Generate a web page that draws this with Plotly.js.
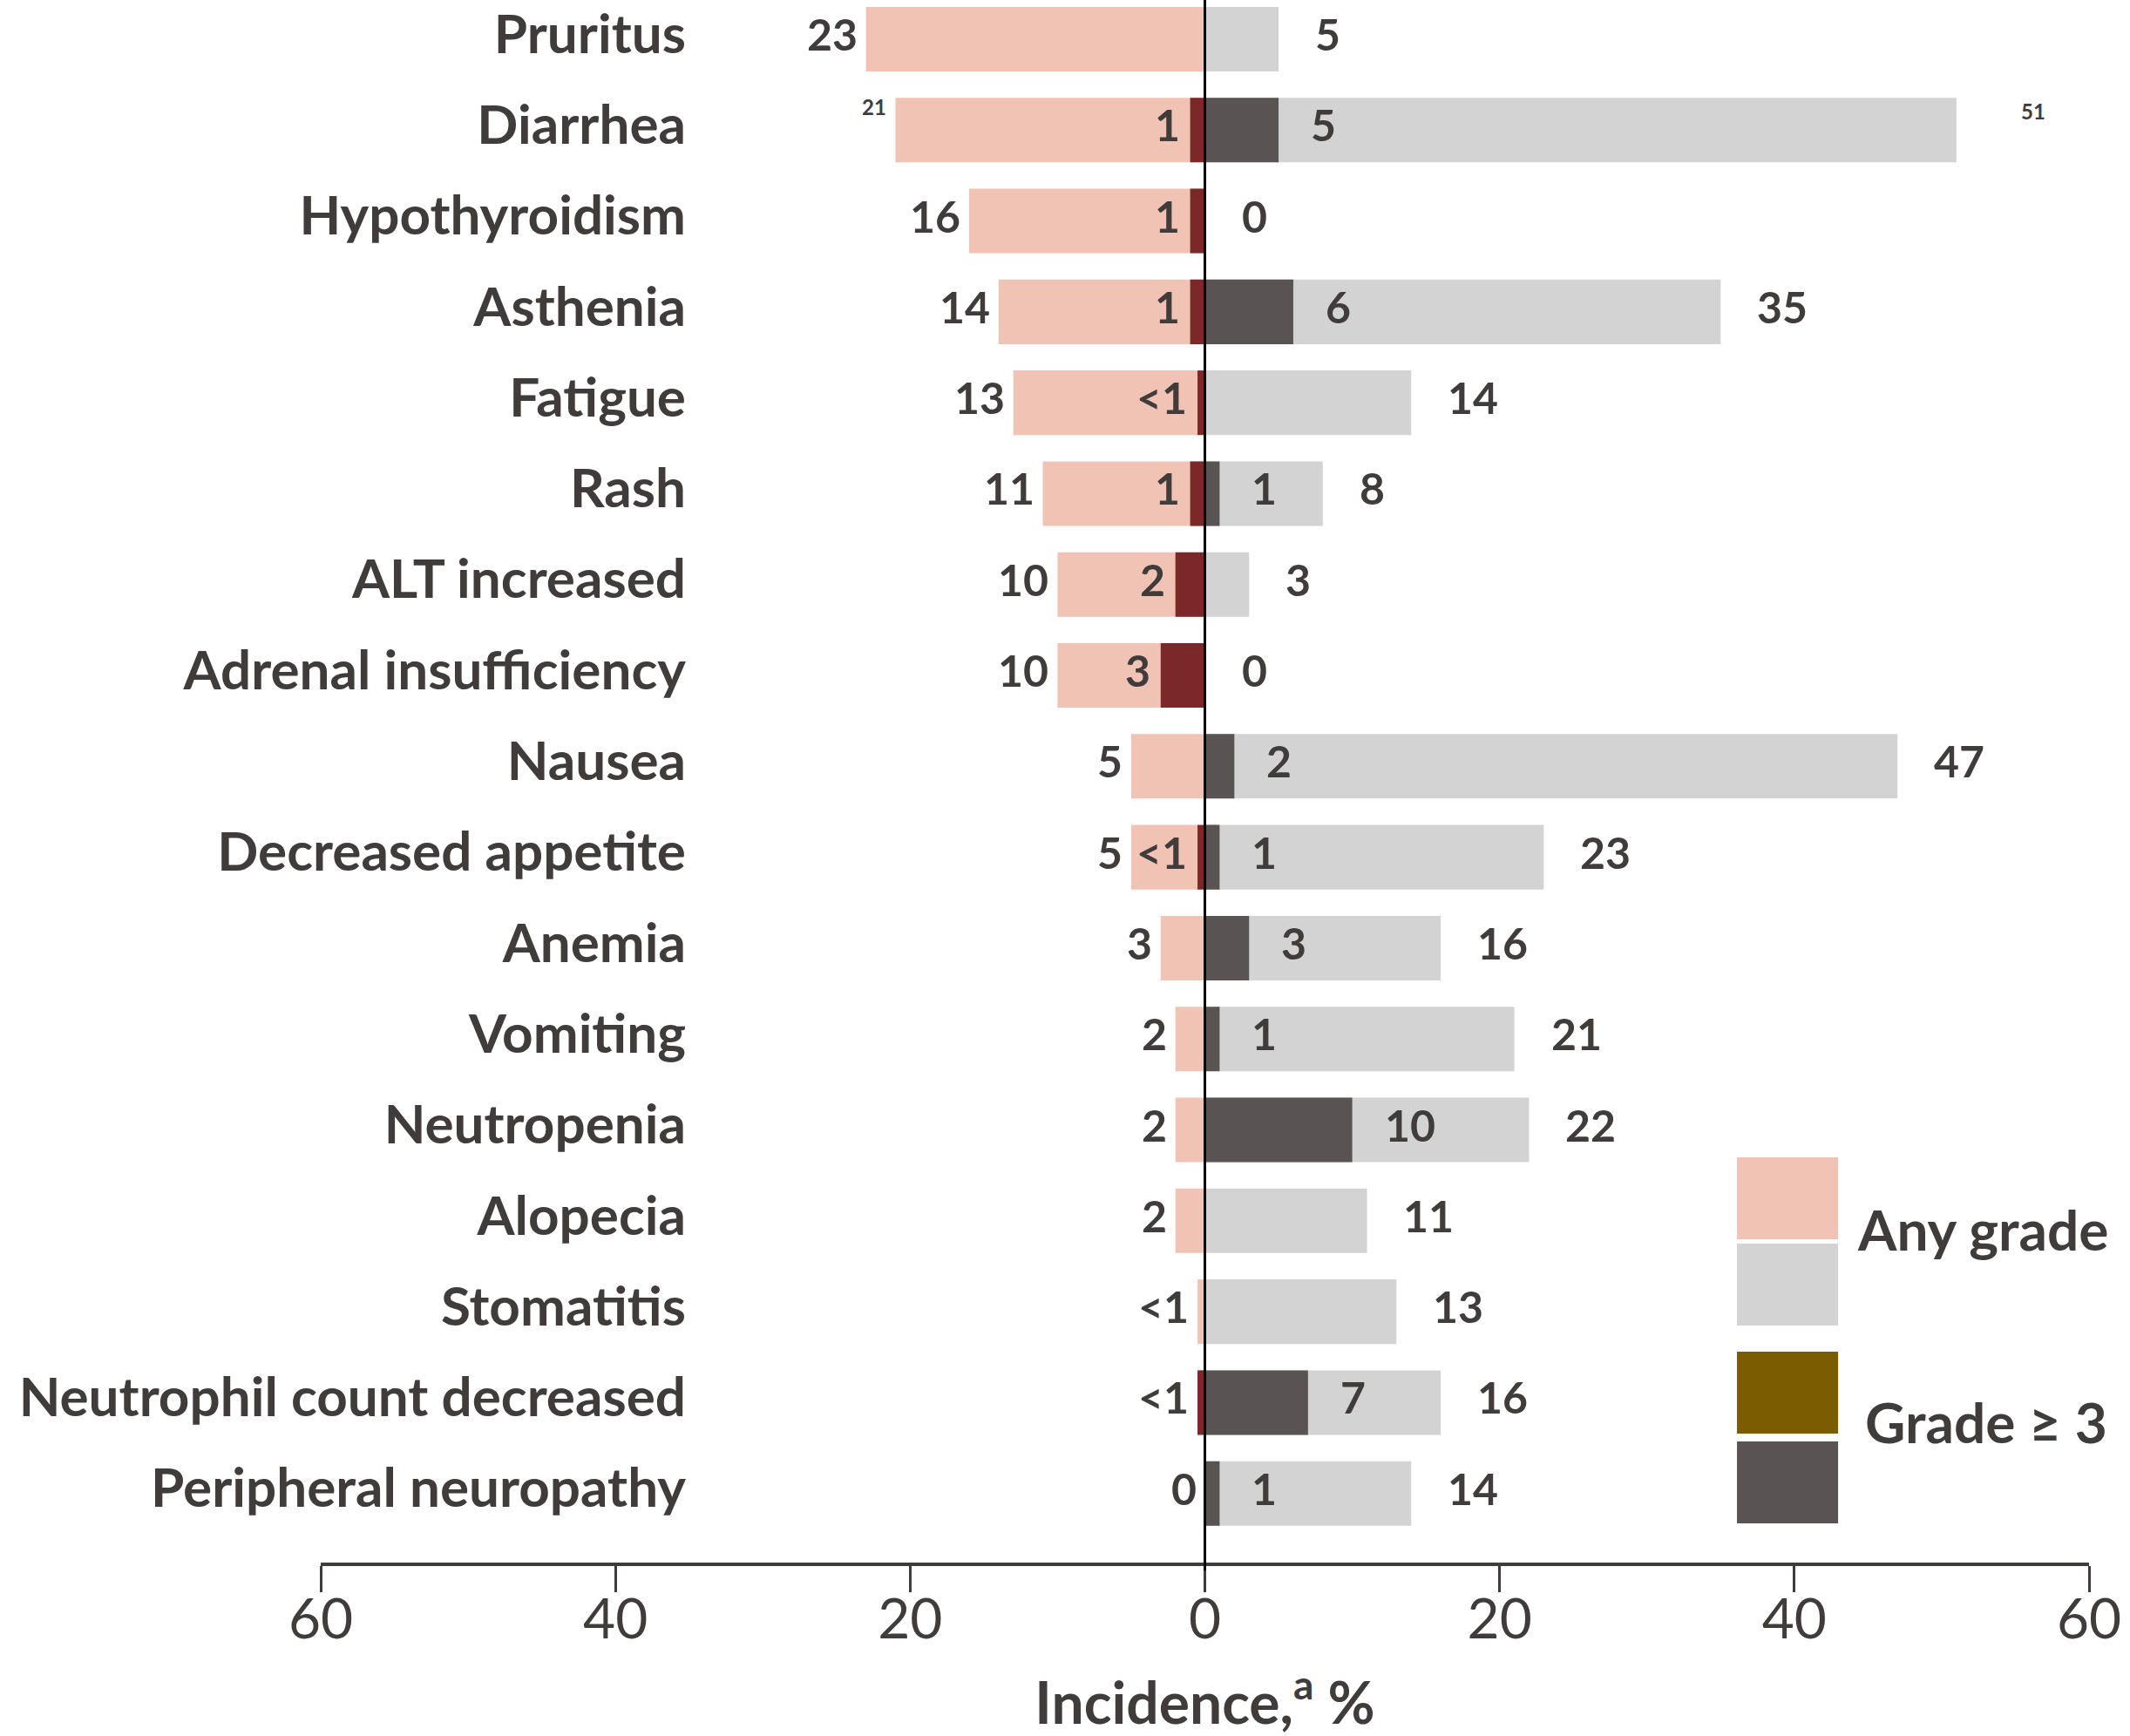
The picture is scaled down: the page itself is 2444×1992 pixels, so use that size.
<!DOCTYPE html>
<html>
<head>
<meta charset="utf-8">
<script src="https://cdn.plot.ly/plotly-3.0.1.min.js"></script>
<style>
  html, body { margin: 0; padding: 0; background: #ffffff; }
  #chart { width: 2444px; height: 1992px; }
</style>
</head>
<body>
<div id="chart"></div>
<script>
// ---- data ----
const categories = ['Pruritus', 'Diarrhea', 'Hypothyroidism', 'Asthenia', 'Fatigue', 'Rash',
  'ALT increased', 'Adrenal insufficiency', 'Nausea', 'Decreased appetite', 'Anemia',
  'Vomiting', 'Neutropenia', 'Alopecia', 'Stomatitis', 'Neutrophil count decreased',
  'Peripheral neuropathy'];

// left side (pink / dark red)
const leftAny        = [23, 21, 16, 14, 13, 11, 10, 10, 5, 5, 3, 2, 2, 2, 0.5, 0.5, 0];
const leftAnyLabels  = ['23', '21', '16', '14', '13', '11', '10', '10', '5', '5', '3', '2', '2', '2', '<1', '<1', '0'];
const leftG3         = [0, 1, 1, 1, 0.5, 1, 2, 3, 0, 0.5, 0, 0, 0, 0, 0, 0.5, 0];
const leftG3Labels   = ['', '1', '1', '1', '<1', '1', '2', '3', '', '<1', '', '', '', '', '', '', ''];

// right side (light gray / dark gray)
const rightAny       = [5, 51, 0, 35, 14, 8, 3, 0, 47, 23, 16, 21, 22, 11, 13, 16, 14];
const rightAnyLabels = ['5', '51', '0', '35', '14', '8', '3', '0', '47', '23', '16', '21', '22', '11', '13', '16', '14'];
const rightG3        = [0, 5, 0, 6, 0, 1, 0, 0, 2, 1, 3, 1, 10, 0, 0, 7, 1];
const rightG3Labels  = ['', '5', '', '6', '', '1', '', '', '2', '1', '3', '1', '10', '', '', '7', '1'];

const tickVals  = [-60, -40, -20, 0, 20, 40, 60];
const tickText  = ['60', '40', '20', '0', '20', '40', '60'];
const legendAny = 'Any grade';
const legendG3  = 'Grade \u2265 3';
const xTitle    = 'Incidence,<sup>a</sup> %';

// ---- styling ----
const FONT = 'Lato, "Open Sans", "DejaVu Sans", sans-serif';
const TXT = '#403c3b';
const PINK = '#f0c3b5', LGRAY = '#d3d3d3', DGRAY = '#595453', DRED = '#7a2828', OLIVE = '#7b5c00';
const BARW = 0.71;
const LIFT = 6; // labels sit slightly above row centre in the reference
const smallLabelRows = ['Diarrhea']; // any-grade labels drawn small and raised in the reference

const neg = a => a.map(v => -v);

const traces = [
  { type: 'bar', orientation: 'h', y: categories, x: neg(leftAny), width: BARW,
    marker: { color: PINK }, hoverinfo: 'skip' },
  { type: 'bar', orientation: 'h', y: categories, x: neg(leftG3), width: BARW,
    marker: { color: DRED }, hoverinfo: 'skip' },
  { type: 'bar', orientation: 'h', y: categories, x: rightAny, width: BARW,
    marker: { color: LGRAY }, hoverinfo: 'skip' },
  { type: 'bar', orientation: 'h', y: categories, x: rightG3, width: BARW,
    marker: { color: DGRAY }, hoverinfo: 'skip' }
];

const annotations = [];
const lblFont = { family: FONT, size: 50, color: TXT, weight: 700 };
const smallFont = { family: FONT, size: 24, color: TXT, weight: 700 };

categories.forEach((c, i) => {
  const small = smallLabelRows.includes(c);
  if (leftAnyLabels[i] !== '') {
    annotations.push({ x: -leftAny[i], y: c, xref: 'x', yref: 'y', text: leftAnyLabels[i],
      showarrow: false, xanchor: 'right', yanchor: 'middle',
      xshift: -8, yshift: small ? 27 : LIFT, font: small ? smallFont : lblFont });
  }
  if (leftG3Labels[i] !== '') {
    annotations.push({ x: -leftG3[i], y: c, xref: 'x', yref: 'y', text: leftG3Labels[i],
      showarrow: false, xanchor: 'right', yanchor: 'middle', xshift: -10, yshift: LIFT, font: lblFont });
  }
  if (rightAnyLabels[i] !== '') {
    annotations.push({ x: rightAny[i], y: c, xref: 'x', yref: 'y', text: rightAnyLabels[i],
      showarrow: false, xanchor: 'left', yanchor: 'middle',
      xshift: small ? 72 : 40, yshift: small ? 22 : LIFT, font: small ? smallFont : lblFont });
  }
  if (rightG3Labels[i] !== '') {
    annotations.push({ x: rightG3[i], y: c, xref: 'x', yref: 'y', text: rightG3Labels[i],
      showarrow: false, xanchor: 'left', yanchor: 'middle', xshift: 35, yshift: LIFT, font: lblFont });
  }
});

// legend (custom, two swatches per label)
const legFont = { family: FONT, size: 64, color: TXT, weight: 700 };
annotations.push({ xref: 'paper', yref: 'paper', x: 0.8679, y: 0.2131, xanchor: 'left', yanchor: 'middle',
  text: legendAny, showarrow: false, font: legFont });
annotations.push({ xref: 'paper', yref: 'paper', x: 0.8724, y: 0.0898, xanchor: 'left', yanchor: 'middle',
  text: legendG3, showarrow: false, font: legFont });

const sw = (y0, y1, color) => ({ type: 'rect', xref: 'paper', yref: 'paper',
  x0: 0.8009, x1: 0.8581, y0: y0, y1: y1, fillcolor: color, line: { width: 0 }, layer: 'above' });

const shapes = [
  sw(0.2069, 0.2593, PINK),
  sw(0.1517, 0.2041, LGRAY),
  sw(0.0825, 0.1350, OLIVE),
  sw(0.0251, 0.0775, DGRAY),
  { type: 'line', xref: 'x', yref: 'paper', x0: 0, x1: 0, y0: -0.005, y1: 1,
    line: { color: '#000000', width: 3 }, layer: 'above' }
];

const layout = {
  width: 2444, height: 1992,
  margin: { l: 368, r: 47, t: 0, b: 199, pad: 0 },
  paper_bgcolor: '#ffffff', plot_bgcolor: '#ffffff',
  barmode: 'overlay',
  showlegend: false,
  font: { family: FONT, color: TXT },
  xaxis: {
    range: [-60, 60], autorange: false,
    tickmode: 'array', tickvals: tickVals, ticktext: tickText,
    tickfont: { family: FONT, size: 64, color: TXT },
    ticks: 'outside', ticklen: 30, tickwidth: 3, tickcolor: TXT,
    ticklabelstandoff: -24,
    showline: true, linewidth: 4, linecolor: TXT,
    showgrid: false, zeroline: false, fixedrange: true,
    title: { text: xTitle, font: { family: FONT, size: 66, color: TXT, weight: 700 }, standoff: 67 }
  },
  yaxis: {
    type: 'category', range: [16.76, -0.431], autorange: false,
    anchor: 'free', position: 0.2065, side: 'left',
    tickfont: { family: FONT, size: 62, color: TXT, weight: 700 },
    ticks: '', showline: false, showgrid: false, zeroline: false, fixedrange: true,
    ticklabelstandoff: 0, ticklabelshift: 6
  },
  annotations: annotations,
  shapes: shapes
};

Plotly.newPlot('chart', traces, layout, { displayModeBar: false, staticPlot: true });
</script>
</body>
</html>
